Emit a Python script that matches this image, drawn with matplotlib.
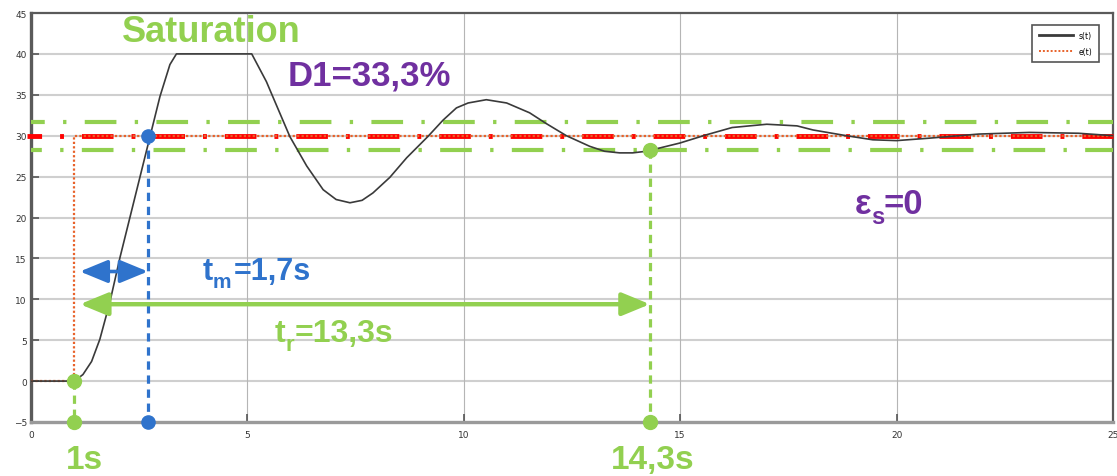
import matplotlib
matplotlib.use("Agg")
import matplotlib.pyplot as plt
from matplotlib.patches import FancyArrowPatch
from matplotlib.lines import Line2D

# --- data -----------------------------------------------------------------
# response s(t) of the controlled system (saturated at 40)
t_s = [0, 1.0, 1.2, 1.4, 1.59, 1.82, 2.06, 2.29, 2.52, 2.75, 2.98, 3.21, 3.36,
       5.1, 5.44, 5.52, 5.98, 6.37, 6.75, 7.05, 7.37, 7.65, 7.9, 8.29, 8.68,
       9.17, 9.52, 9.83, 10.1, 10.52, 10.99, 11.52, 11.9, 12.37, 12.91, 13.25,
       13.6, 13.9, 14.22, 14.99, 15.6, 16.2, 17.0, 17.7, 18.07, 18.84, 19.45,
       20.0, 20.76, 21.9, 23.07, 24.2, 25.0]
s_vals = [0, 0, 0.8, 2.4, 5.1, 9.6, 15.2, 20.1, 25.0, 29.9, 34.8, 38.7, 40,
          40, 36.6, 35.6, 29.9, 26.3, 23.4, 22.2, 21.8, 22.1, 23.0, 24.9, 27.3,
          29.9, 31.9, 33.4, 34.0, 34.4, 34.0, 32.8, 31.5, 30.0, 28.7, 28.1,
          27.9, 27.9, 28.1, 29.1, 30.1, 31.0, 31.4, 31.2, 30.7, 30.0, 29.5,
          29.4, 29.7, 30.2, 30.4, 30.3, 30.0]

# set-point step e(t)
t_e = [0, 1, 1, 25]
e_vals = [0, 0, 30, 30]

setpoint = 30
band_high = 31.7
band_low = 28.2

t_start = 1.0       # step instant
t_rise = 1.7        # t_m
t_settle = 13.3     # t_r

x_ticks = [0, 5, 10, 15, 20, 25]
y_ticks = [-5, 0, 5, 10, 15, 20, 25, 30, 35, 40, 45]

# --- colours --------------------------------------------------------------
GREEN = "#92d050"
BLUE = "#2f73cc"
PURPLE = "#7030a0"
RED = "#ff0000"
ORANGE = "#e8622a"

FONT = "Liberation Sans"

fig = plt.figure(figsize=(11.17, 4.77), dpi=100)
ax = fig.add_axes([31 / 1117, 54 / 477, 1082 / 1117, 409 / 477])
ax.set_xlim(0, 25)
ax.set_ylim(-5, 45)

# grid
ax.set_xticks(x_ticks)
ax.set_yticks(y_ticks)
for y in y_ticks[1:-1]:
    ax.axhline(y, color="#cfcfcf", lw=1.5, zorder=0)
for x in x_ticks[1:-1]:
    ax.axvline(x, color="#b5b5b5", lw=0.8, zorder=0)

ax.tick_params(direction="in", length=6, width=1.2, color="#555555",
               labelsize=6.5, labelcolor="#333333", pad=3)
ax.tick_params(axis="x", pad=6)

for side, (c, w) in {"left": ("#5a5a5a", 2.4), "top": ("#5a5a5a", 1.6),
                     "right": ("#5a5a5a", 1.6), "bottom": ("#9a9a9a", 2.4)}.items():
    ax.spines[side].set_color(c)
    ax.spines[side].set_linewidth(w)

# tolerance band and set-point line
ax.plot([0, 25], [band_high, band_high], color=GREEN, lw=3,
        linestyle=(4.3, (7.6, 4.4, 0.8, 4.4)), solid_capstyle="butt", zorder=3)
ax.plot([0, 25], [band_low, band_low], color=GREEN, lw=3,
        linestyle=(5.0, (7.6, 4.4, 0.8, 4.4)), solid_capstyle="butt", zorder=3)
ax.plot([-0.1, 25], [setpoint, setpoint], color=RED, lw=3.5,
        linestyle=(3.5, (6.5, 3.7, 0.8, 3.7)), zorder=3, clip_on=False)

# signals
ax.plot(t_e, e_vals, color=ORANGE, lw=1.6, linestyle=(0, (1, 1)), zorder=4,
        label="e(t)")
ax.plot(t_s, s_vals, color="#3a3a3a", lw=1.2, zorder=5, label="s(t)")

# vertical markers
t_m_end = t_start + t_rise
t_r_end = t_start + t_settle
ax.plot([t_m_end, t_m_end], [setpoint, -5], color=BLUE, lw=2.3,
        linestyle=(0, (2.6, 1.8)), zorder=6, clip_on=False)
ax.plot([t_start, t_start], [0, -5], color=GREEN, lw=2.3,
        linestyle=(0, (2.6, 1.8)), zorder=6, clip_on=False)
ax.plot([t_r_end, t_r_end], [band_low, -5], color=GREEN, lw=2.3,
        linestyle=(0, (2.6, 1.8)), zorder=6, clip_on=False)

ax.plot([t_start, t_start, t_r_end, t_r_end], [0, -5, band_low, -5], "o",
        color=GREEN, ms=10, zorder=7, clip_on=False)
ax.plot([t_m_end, t_m_end], [setpoint, -5], "o", color=BLUE, ms=9.5,
        zorder=7, clip_on=False)

# double arrows
ax.add_patch(FancyArrowPatch((1.13, 13.4), (t_m_end, 13.4),
                             arrowstyle="<|-|>,head_length=17,head_width=7",
                             mutation_scale=1, lw=2.6, color=BLUE,
                             shrinkA=0, shrinkB=0, zorder=8))
ax.add_patch(FancyArrowPatch((1.13, 9.4), (t_r_end, 9.4),
                             arrowstyle="<|-|>,head_length=17,head_width=7",
                             mutation_scale=1, lw=3.2, color=GREEN,
                             shrinkA=0, shrinkB=0, zorder=8))

# annotations
bold = dict(family=FONT, weight="bold", ha="left", va="baseline",
            clip_on=False, zorder=9)
ax.text(2.1, 41.6, "Saturation", color=GREEN, fontsize=26, **bold)
ax.text(5.94, 36.2, "D1=33,3%", color=PURPLE, fontsize=25, **bold)

ax.text(3.97, 12.5, "t", color=BLUE, fontsize=22, **bold)
ax.text(4.2, 11.5, "m", color=BLUE, fontsize=15, **bold)
ax.text(4.69, 12.5, "=1,7s", color=BLUE, fontsize=22, **bold)

ax.text(5.64, 4.9, "t", color=GREEN, fontsize=23, **bold)
ax.text(5.87, 3.8, "r", color=GREEN, fontsize=16, **bold)
ax.text(6.1, 4.9, "=13,3s", color=GREEN, fontsize=23, **bold)

ax.text(19.04, 20.5, "\u03b5", color=PURPLE, fontsize=25, **bold)
ax.text(19.4, 19.3, "s", color=PURPLE, fontsize=17, **bold)
ax.text(19.7, 20.5, "=0", color=PURPLE, fontsize=25, **bold)

ax.text(0.81, -10.6, "1s", color=GREEN, fontsize=24, **bold)
ax.text(13.4, -10.6, "14,3s", color=GREEN, fontsize=24, **bold)

# legend
handles = [Line2D([], [], color="#3a3a3a", lw=2),
           Line2D([], [], color=ORANGE, lw=1.4, linestyle=(0, (1, 1)))]
leg = ax.legend(handles, ["s(t)", "e(t)"], loc="upper right",
                bbox_to_anchor=(0.987, 0.971), borderaxespad=0,
                fontsize=5.5, fancybox=False, framealpha=1,
                edgecolor="#555555", handlelength=4.5, borderpad=0.8,
                labelspacing=0.9)
leg.get_frame().set_linewidth(1.2)

fig.savefig("out.png", dpi=100)
